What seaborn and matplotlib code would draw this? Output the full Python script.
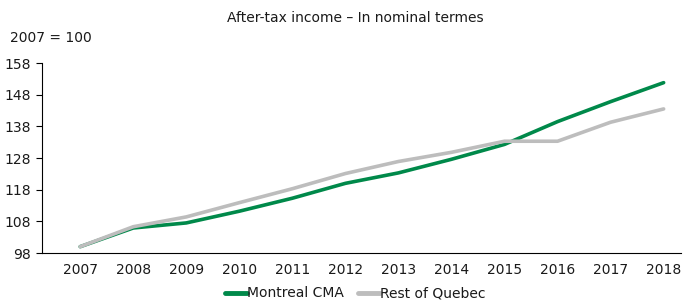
import pandas as pd
import numpy as np
import matplotlib.pyplot as plt
import seaborn as sns

# --- Data (after-tax income index, 2007 = 100) ---
years = [2007, 2008, 2009, 2010, 2011, 2012, 2013, 2014, 2015, 2016, 2017, 2018]
montreal = [100.0, 105.9, 107.5, 111.2, 115.3, 120.0, 123.3, 127.6, 132.3, 139.5, 145.8, 151.8]
rest_qc = [100.0, 106.3, 109.4, 113.9, 118.3, 123.1, 126.9, 129.8, 133.3, 133.3, 139.3, 143.5]
series_names = ['Montreal CMA', 'Rest of Quebec']
yticks = [98, 108, 118, 128, 138, 148, 158]

df = pd.DataFrame({
    'year': years * 2,
    'value': montreal + rest_qc,
    'series': [series_names[0]] * len(years) + [series_names[1]] * len(years),
})
df['pos'] = df['year'] - years[0]

sns.set_style("white")
plt.rcParams['font.family'] = ['Liberation Sans Narrow', 'DejaVu Sans']
plt.rcParams['text.color'] = '#1a1a1a'
plt.rcParams['xtick.color'] = '#1a1a1a'
plt.rcParams['ytick.color'] = '#1a1a1a'

fs = 10
fig = plt.figure(figsize=(6.83, 3.03), dpi=100)
ax = fig.add_axes([0.0615, 0.165, 0.935, 0.627])
sns.lineplot(data=df, x='pos', y='value', hue='series', ax=ax,
             palette={series_names[0]: '#00894A', series_names[1]: '#BDBDBD'},
             linewidth=2.6, legend=True)

ax.set_xlim(-0.72, 11.32)
ax.set_ylim(98, 158)
ax.set_yticks(yticks)
ax.set_xticks(range(len(years)))
ax.set_xticklabels([str(y) for y in years])
ax.set_xlabel('')
ax.set_ylabel('')
for s in ['top', 'right']:
    ax.spines[s].set_visible(False)
for s in ['left', 'bottom']:
    ax.spines[s].set_color('black')
    ax.spines[s].set_linewidth(0.8)
ax.tick_params(axis='y', length=4, width=0.8, color='black', left=True, pad=4, labelsize=fs)
ax.tick_params(axis='x', length=0, pad=7, labelsize=fs)

fig.text(0.52, 0.942, 'After-tax income \u2013 In nominal termes', ha='center', va='center', fontsize=fs)
fig.text(0.015, 0.875, '2007 = 100', ha='left', va='center', fontsize=fs)

leg = ax.legend(loc='upper center', bbox_to_anchor=(0.49, -0.11), ncol=2, frameon=False,
                handlelength=1.6, handletextpad=0.0, columnspacing=1.0, fontsize=fs)
for line in leg.get_lines():
    line.set_linewidth(3.5)

fig.savefig('out.png', dpi=100)
